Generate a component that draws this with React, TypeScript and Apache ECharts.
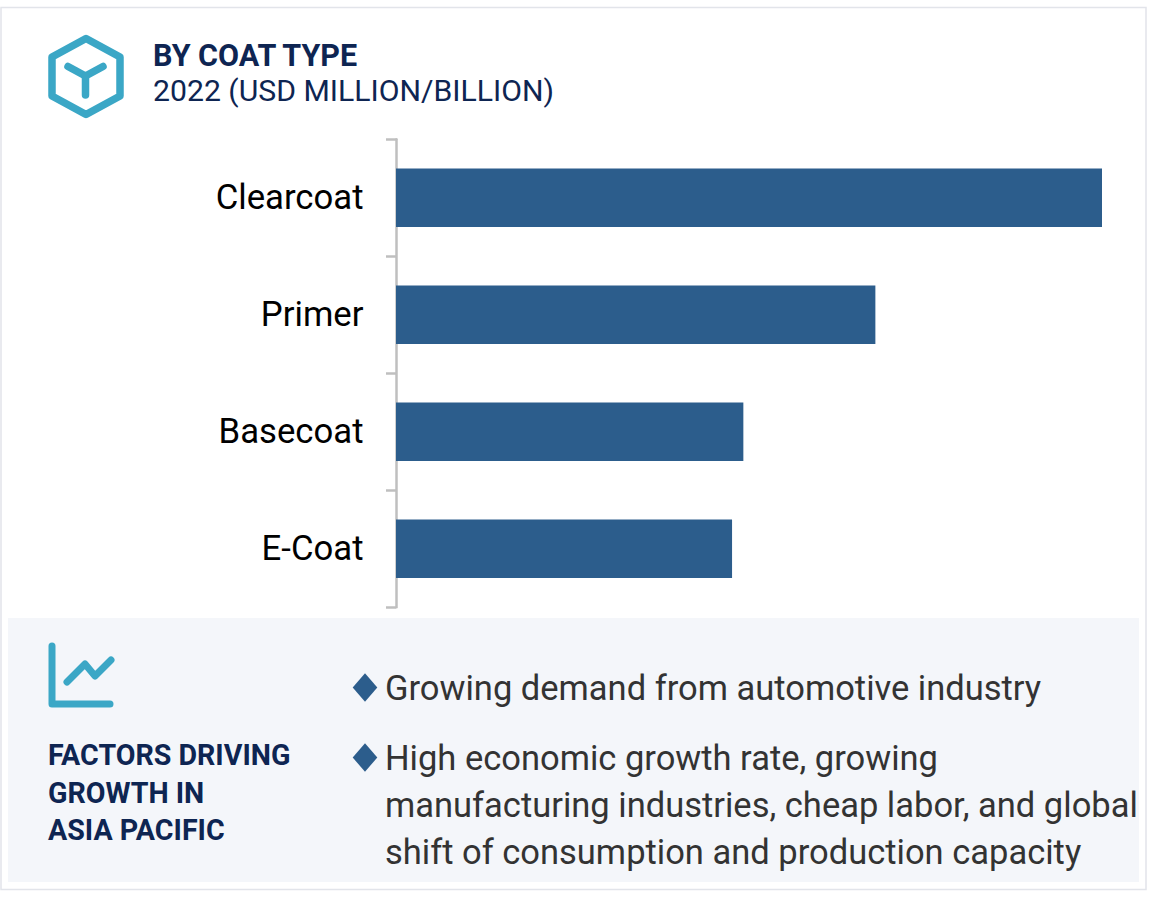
import React, { useEffect, useRef } from "react";
import * as echarts from "echarts";

const categories = ["Clearcoat", "Primer", "Basecoat", "E-Coat"];
const values = [100, 67.9, 49.2, 47.6];
const titleText = "BY COAT TYPE";
const subtitleText = "2022 (USD MILLION/BILLION)";
const factorsLines = ["FACTORS DRIVING", "GROWTH IN", "ASIA PACIFIC"];
const bulletOne = ["Growing demand from automotive industry"];
const bulletTwo = [
  "High economic growth rate, growing",
  "manufacturing industries, cheap labor, and global",
  "shift of consumption and production capacity",
];

const FONT = "Roboto";
const NAVY = "#0e2552";
const TEAL = "#3ba7c6";
const BLUE = "#2c5d8c";
const DARK = "#333333";

export default function App() {
  const ref = useRef<HTMLDivElement>(null);
  useEffect(() => {
    const chart = echarts.init(ref.current!, undefined, { renderer: "svg" });
    const text = (x: number, y: number, t: string, size: number, fill: string, weight: any = 400) => ({
      type: "text",
      x,
      y,
      silent: true,
      style: { text: t, fontFamily: FONT, fontSize: size, fontWeight: weight, fill, textVerticalAlign: "middle" },
    });
    const diamond = (cx: number, cy: number) => ({
      type: "polygon",
      silent: true,
      shape: { points: [[cx - 12.3, cy], [cx, cy - 14.3], [cx + 12.3, cy], [cx, cy + 14.3]] },
      style: { fill: BLUE },
    });
    const tealLine = { stroke: TEAL, lineWidth: 7, fill: "none", lineCap: "round", lineJoin: "round" };
    chart.setOption({
      animation: false,
      backgroundColor: "#ffffff",
      grid: { left: 396, top: 139.2, width: 706, height: 468, containLabel: false },
      xAxis: { type: "value", min: 0, max: 100, show: false },
      yAxis: {
        type: "category",
        inverse: true,
        offset: 1,
        data: categories,
        axisLine: { show: true, lineStyle: { color: "#bfbfbf", width: 2.5 } },
        axisTick: { show: true, length: 10, alignWithLabel: false, lineStyle: { color: "#bfbfbf", width: 2.5 } },
        axisLabel: { fontFamily: FONT, fontSize: 34.7, color: "#000000", margin: 31.5, verticalAlign: "bottom", lineHeight: 1 },
      },
      series: [
        {
          type: "bar",
          data: values,
          barWidth: "50%",
          itemStyle: { color: BLUE },
          silent: true,
        },
      ],
      graphic: [
        { type: "rect", z: -1, silent: true, shape: { x: 1, y: 7.5, width: 1145, height: 882 }, style: { fill: "#ffffff", stroke: "#e2e4ea", lineWidth: 1.5 } },
        { type: "rect", z: -1, silent: true, shape: { x: 8, y: 618, width: 1131, height: 264 }, style: { fill: "#f4f6fa" } },
        // header icon
        { type: "polygon", silent: true, shape: { points: [[86, 38.5], [120, 57], [120, 96], [86, 114.5], [52, 96], [52, 57]] }, style: { ...tealLine, lineWidth: 7.5 } },
        { type: "polyline", silent: true, shape: { points: [[68, 66.5], [85.5, 76], [103, 66.5]] }, style: { ...tealLine, lineWidth: 7.5 } },
        { type: "polyline", silent: true, shape: { points: [[85.5, 76], [85.5, 95]] }, style: { ...tealLine, lineWidth: 7.5 } },
        text(153, 55, titleText, 30.5, NAVY, 700),
        text(153, 90, subtitleText, 30.2, NAVY),
        // growth icon
        { type: "polyline", silent: true, shape: { points: [[52, 646], [52, 704], [110, 704]] }, style: tealLine },
        { type: "polyline", silent: true, shape: { points: [[67, 682], [85, 664], [95, 676], [111, 660]] }, style: tealLine },
        ...factorsLines.map((t, i) => text(48, 755 + i * 37.5, t, 28.6, NAVY, 700)),
        diamond(365, 687.5),
        ...bulletOne.map((t) => text(385, 687.5, t, 34.5, DARK)),
        diamond(365, 757.5),
        ...bulletTwo.map((t, i) => text(385, 757.5 + i * 47.3, t, 34.5, DARK)),
      ],
    });
    return () => chart.dispose();
  }, []);
  return <div ref={ref} style={{ position: "absolute", left: 0, top: 0, width: 1170, height: 906 }} />;
}
